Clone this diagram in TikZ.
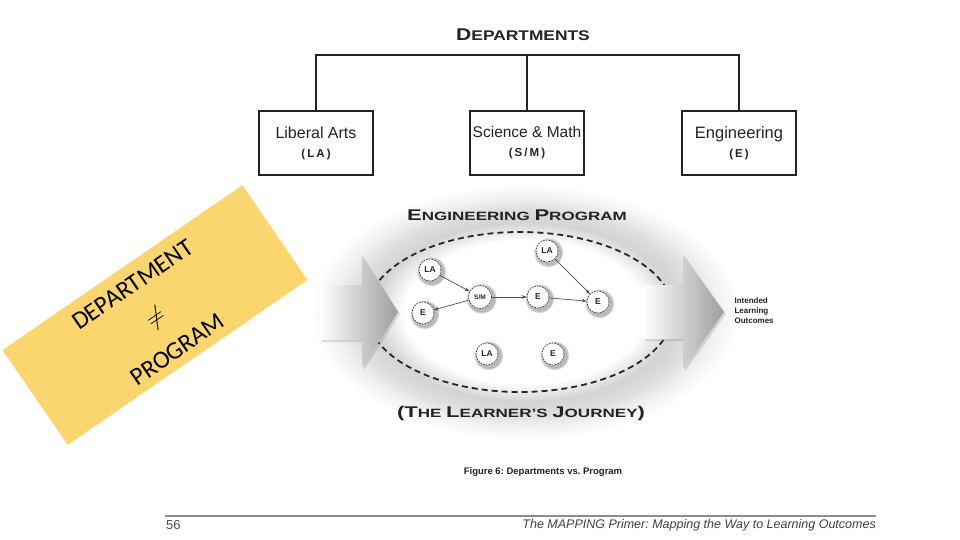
\documentclass[tikz,border=0pt]{standalone}
\usepackage{fontspec}
\setmainfont{Liberation Sans}
\newfontfamily\carl{Carlito}
\newfontfamily\wideA[FakeStretch=1.24]{Liberation Sans}
\newfontfamily\wideB[FakeStretch=1.42]{Liberation Sans}
\usetikzlibrary{arrows.meta,shadows,calc}
\definecolor{ybox}{RGB}{251,214,110}
\definecolor{ink}{RGB}{35,35,35}
\pgfdeclareradialshading{bigglow}{\pgfpoint{0bp}{0bp}}{color(0bp)=(white); color(14bp)=(white); color(17.5bp)=(black!17); color(20bp)=(black!13); color(22.5bp)=(black!5); color(25bp)=(white); color(50bp)=(white)}
\frenchspacing
\begin{document}
\begin{tikzpicture}[x=1pt,y=-1pt,
  deptbox/.style={draw=ink, line width=1.3pt, minimum width=114, minimum height=64, inner sep=0pt, align=center, text=ink},
  tree/.style={draw=ink, line width=1.3pt},
  spot/.style={circle, draw=black!75, dash pattern=on 1.6pt off 1.2pt, line width=0.7pt, fill=white, minimum size=22, inner sep=0pt, text=black!85,
     circular drop shadow={shadow scale=1.35, shadow xshift=1pt, shadow yshift=-1pt, opacity=0.55}},
  link/.style={-{Stealth[length=5pt,width=3.6pt]}, line width=0.7pt, draw=black!70},
  blockarrow/.style={left color=white, right color=black!38, drop shadow={shadow xshift=2pt, shadow yshift=-2pt, opacity=0.25}}
]
\useasboundingbox (0,0) rectangle (960,540);
\fill[white] (0,0) rectangle (960,540);

% departments
\node[text=ink] (dept) at (523,35) {\wideA\bfseries{\fontsize{17}{17}\selectfont D}{\fontsize{14}{14}\selectfont EPARTMENTS}};
\node[deptbox] (la) at (316,143) {{\fontsize{16}{18}\selectfont Liberal Arts}\\[7pt]{\fontsize{11.5}{12}\selectfont\bfseries\addfontfeature{LetterSpace=18}(LA)}};
\node[deptbox] (sm) at (527,143) {{\fontsize{15.5}{18}\selectfont Science \& Math}\\[7pt]{\fontsize{11.5}{12}\selectfont\bfseries\addfontfeature{LetterSpace=18}(S/M)}};
\node[deptbox] (eng) at (739,143) {{\fontsize{16.5}{18}\selectfont Engineering}\\[7pt]{\fontsize{11.5}{12}\selectfont\bfseries\addfontfeature{LetterSpace=18}(E)}};
\coordinate (bar) at (527,55);
\draw[tree] (la.north) -- (la.north |- bar) -- (eng.north |- bar) -- (eng.north);
\draw[tree] (sm.north) -- (sm.north |- bar);

% program glow and ellipse
\shade[shading=bigglow] (525,312) ellipse (215 and 128);
\draw[black!85, line width=1.8pt, dash pattern=on 6pt off 4pt] (520,312) ellipse (153 and 80);

\node[text=ink] (prog) at (517,215) {\wideB\bfseries{\fontsize{15.5}{15}\selectfont E}{\fontsize{12}{12}\selectfont NGINEERING }{\fontsize{15.5}{15}\selectfont P}{\fontsize{12}{12}\selectfont ROGRAM}};
\node[text=ink] (journey) at (521,413) {\wideB\bfseries{\fontsize{15.5}{15}\selectfont (T}{\fontsize{12}{12}\selectfont HE }{\fontsize{15.5}{15}\selectfont L}{\fontsize{12}{12}\selectfont EARNER’S }{\fontsize{15.5}{15}\selectfont J}{\fontsize{12}{12}\selectfont OURNEY}{\fontsize{15.5}{15}\selectfont )}};

% learner nodes
\node[spot, font=\fontsize{8.5}{9}\selectfont\bfseries] (la1) at (430,270) {LA};
\node[spot, font=\fontsize{8.5}{9}\selectfont\bfseries] (e1) at (423,313) {E};
\node[spot, font=\fontsize{6.5}{7}\selectfont\bfseries, minimum size=23] (smn) at (480,297) {S/M};
\node[spot, font=\fontsize{8.5}{9}\selectfont\bfseries] (e2) at (538,297) {E};
\node[spot, font=\fontsize{8.5}{9}\selectfont\bfseries] (la2) at (547,251) {LA};
\node[spot, font=\fontsize{8.5}{9}\selectfont\bfseries] (e3) at (598,302) {E};
\node[spot, font=\fontsize{8.5}{9}\selectfont\bfseries] (la3) at (487,354) {LA};
\node[spot, font=\fontsize{8.5}{9}\selectfont\bfseries] (e4) at (553,354) {E};
\draw[link] (la1) -- (smn);
\draw[link] (smn) -- (e1);
\draw[link] (smn) -- (e2);
\draw[link] (e2) -- (e3);
\draw[link] (la2) -- (e3);

% block arrows
\shade[blockarrow] (320,285) -- (362,285) -- (362,256) -- (398,312) -- (362,368) -- (362,340) -- (320,340) -- cycle;
\shade[blockarrow] (643,285) -- (683,285) -- (683,255) -- (724,312) -- (683,369) -- (683,339) -- (643,339) -- cycle;

\node[anchor=west, align=left, text=ink, font=\fontsize{8}{10}\selectfont\bfseries] (ilo) at (731,311) {Intended\\Learning\\Outcomes};

% caption and footer
\node[text=ink, font=\fontsize{9.5}{10}\selectfont\bfseries] (fig) at (543,472) {Figure 6: Departments vs. Program};
\coordinate (rl) at (165,516);
\coordinate (rr) at (876,516);
\draw[black!45, line width=1.2pt] (rl) -- (rr);
\node[anchor=west, text=black!70, font=\fontsize{13}{13}\selectfont, inner sep=0pt] (pg) at (166,525) {56};
\node[anchor=east, text=black!75, font=\fontsize{12.5}{13}\selectfont\itshape, inner sep=0pt] (title) at (876,525) {The MAPPING Primer: Mapping the Way to Learning Outcomes};

% yellow note
\node[fill=ybox, rotate=34.5, minimum width=291, minimum height=115, inner sep=0pt] (note) at (155,315) {};
\node[rotate=34.5, align=center, text=black, font=\carl\fontsize{25}{39.5}\selectfont] (notetext) at (155,317) {DEPARTMENT\\$\neq$\\PROGRAM};
\end{tikzpicture}
\end{document}
